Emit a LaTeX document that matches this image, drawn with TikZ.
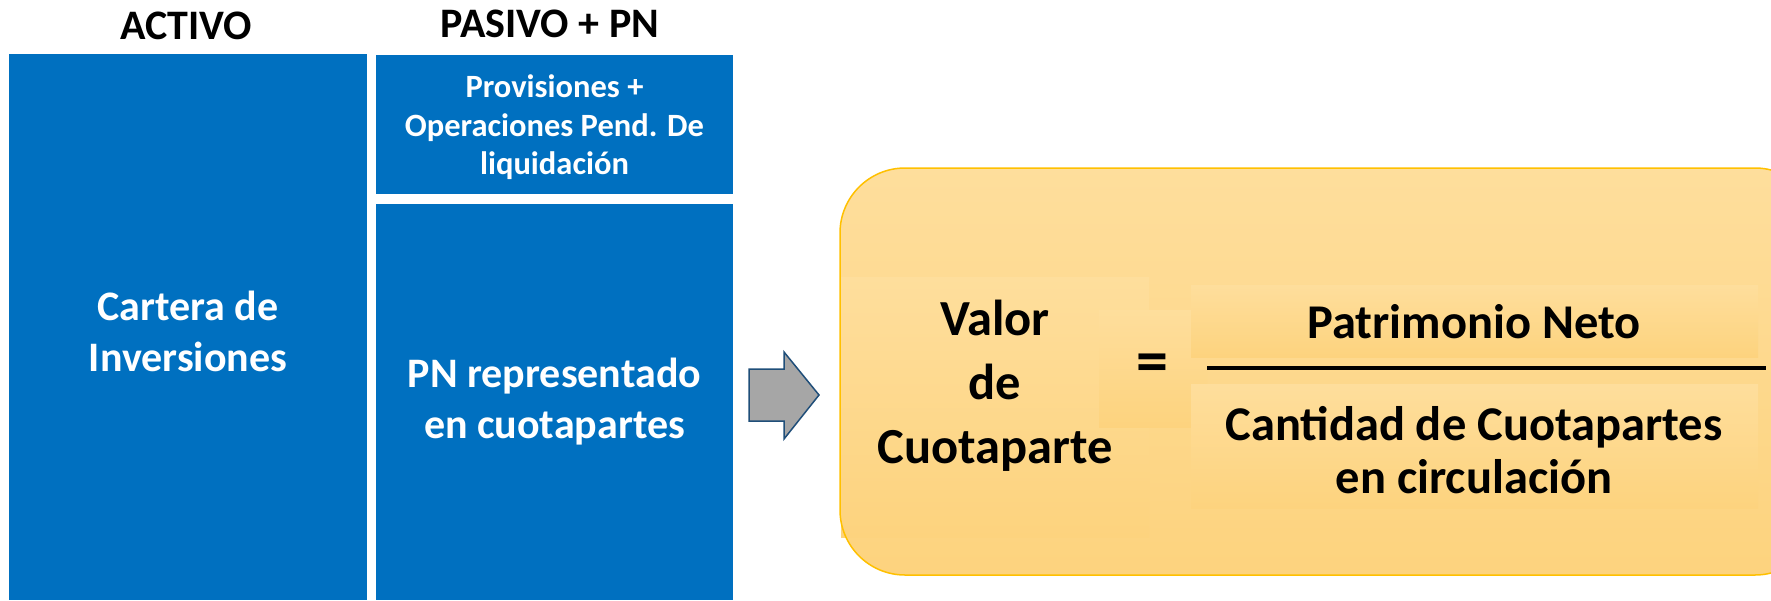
\documentclass[tikz,border=0pt]{standalone}
\usepackage{fontspec}
\setmainfont{Carlito}
\definecolor{bluebox}{RGB}{0,112,192}
\definecolor{ytop}{RGB}{254,222,156}
\definecolor{ybot}{RGB}{253,211,126}
\definecolor{yborder}{RGB}{255,192,0}
\definecolor{arrowfill}{RGB}{166,166,166}
\definecolor{arrowline}{RGB}{31,78,121}
\begin{document}
\begin{tikzpicture}[x=1pt,y=-1pt,
  title/.style={font=\bfseries\fontsize{42}{50}\selectfont, text=black, inner sep=0pt},
  bluebox/.style={fill=bluebox, text=white, align=center, inner sep=0pt, font=\bfseries\fontsize{42}{51}\selectfont},
  smalltxt/.style={font=\bfseries\fontsize{32.5}{38.5}\selectfont},
  bigtxt/.style={text=black, align=center, inner sep=0pt, font=\bfseries\fontsize{50.5}{64}\selectfont},
  eqtxt/.style={text=black, inner sep=0pt, font=\bfseries\fontsize{64}{64}\selectfont},
  fractxt/.style={text=black, align=center, inner sep=0pt, font=\bfseries\fontsize{48.5}{53}\selectfont},
  faint/.style={top color=ytop, bottom color=ybot, draw=none}
]
\useasboundingbox (0,0) rectangle (1771,600);
\clip (0,0) rectangle (1771,600);

% titles
\node[title] (tact) at (186,26) {ACTIVO};
\node[title] (tpas) at (550,24) {PASIVO + PN};

% blue boxes
\node[bluebox, minimum width=358pt, minimum height=546pt] (activo) at (188,327) {};
\node[bluebox, anchor=center] (activotxt) at (188,331) {Cartera de\\Inversiones};
\node[bluebox, smalltxt, minimum width=357pt, minimum height=139pt] (prov) at (554.5,124) {};
\node[bluebox, smalltxt] (provtxt) at (554.5,127.5) {Provisiones +\\Operaciones Pend. De\\liquidación};
\node[bluebox, minimum width=357pt, minimum height=396pt] (pn) at (554.5,402) {PN representado\\en cuotapartes};

% arrow
\draw[fill=arrowfill, draw=arrowline, line width=1.5pt, line join=miter]
  (749,369) -- (784,369) -- (784,352) -- (819,395) -- (784,439) -- (784,421) -- (749,421) -- cycle;

% yellow rounded box
\shade[top color=ytop, bottom color=ybot, rounded corners=65pt] (840,168) rectangle (1820,575);
\shade[faint] (841,277) rectangle (1149,537);
\shade[faint] (1099,310) rectangle (1207,427);
\shade[faint] (1191,285) rectangle (1758,357);
\shade[faint] (1191,384) rectangle (1758,508);
\draw[yborder, line width=1.5pt, rounded corners=65pt] (840,168) rectangle (1820,575);

% formula
\node[bigtxt] (valor) at (995,386) {Valor\\de\\Cuotaparte};
\node[eqtxt] (eq) at (1152,368) {=};
\coordinate (fl) at (1207,368);
\coordinate (fr) at (1766,368);
\draw[line width=3.5pt, black] (fl) -- (fr);
\node[fractxt] (num) at (1474,322) {Patrimonio Neto};
\node[fractxt] (den) at (1474,450) {Cantidad de Cuotapartes\\en circulación};
\end{tikzpicture}
\end{document}
